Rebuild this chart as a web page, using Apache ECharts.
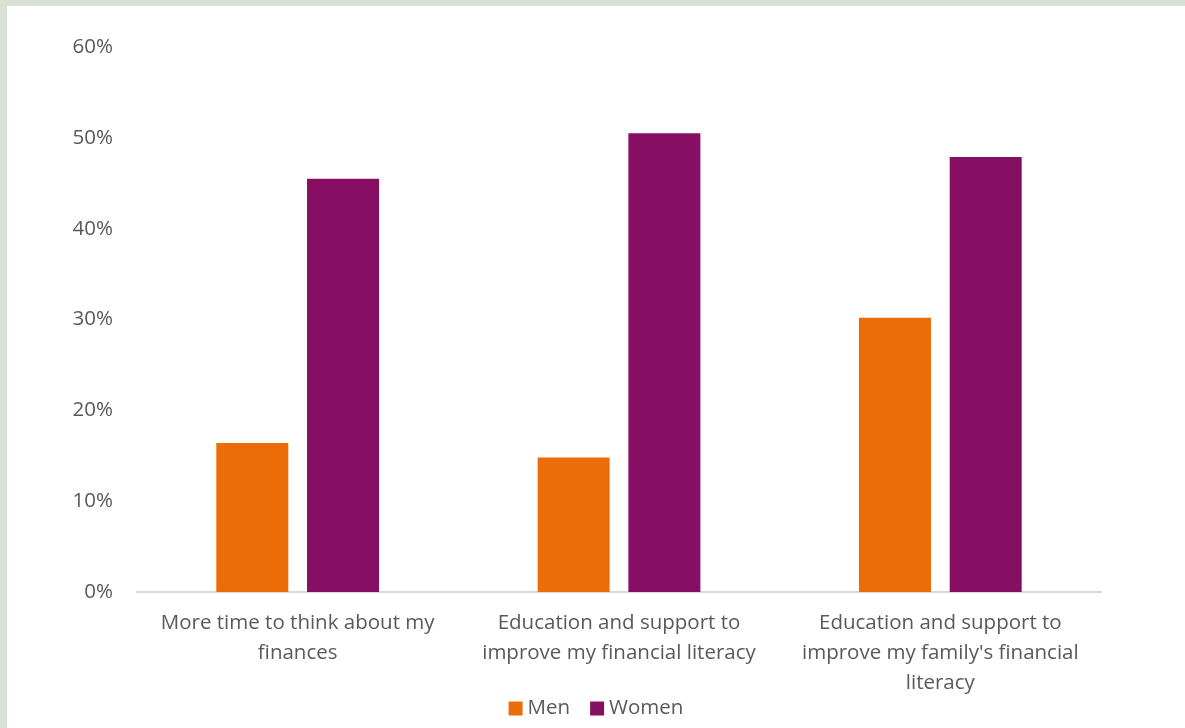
<!DOCTYPE html>
<html>
<head>
<meta charset="utf-8">
<script src="https://cdn.jsdelivr.net/npm/echarts@6/dist/echarts.min.js"></script>
<style>
  html, body { margin: 0; padding: 0; width: 1185px; height: 728px; background: #dae0d6; overflow: hidden; }
  #chart { position: absolute; left: 7px; top: 6px; width: 1178px; height: 722px; background: #ffffff; }
</style>
</head>
<body>
<div id="chart"></div>
<script>
// Survey answers, split by gender (share of respondents, %)
const categories = [
  'More time to think about my\nfinances',
  'Education and support to\nimprove my financial literacy',
  "Education and support to\nimprove my family's financial\nliteracy"
];
const menValues = [16.4, 14.8, 30.2];
const womenValues = [45.5, 50.5, 47.9];
const yTicks = { min: 0, max: 60, interval: 10 };

const textColor = '#595959';
const fontFamily = '"Open Sans", "Liberation Sans", sans-serif';

const chart = echarts.init(document.getElementById('chart'));
chart.setOption({
  animation: false,
  textStyle: { fontFamily: fontFamily, color: textColor },
  grid: { left: 130, right: 84, top: 41, bottom: 136 },
  legend: {
    data: ['Men', 'Women'],
    bottom: 4,
    left: 'center',
    icon: 'rect',
    itemWidth: 14,
    itemHeight: 14,
    itemGap: 20,
    textStyle: { fontSize: 20.5, color: textColor, fontFamily: fontFamily }
  },
  xAxis: {
    type: 'category',
    data: categories,
    axisLine: { show: true, lineStyle: { color: '#d9d9d9', width: 2 } },
    axisTick: { show: false },
    axisLabel: {
      interval: 0,
      margin: 16,
      fontSize: 20.5,
      lineHeight: 30,
      color: textColor,
      fontFamily: fontFamily
    }
  },
  yAxis: {
    type: 'value',
    min: yTicks.min,
    max: yTicks.max,
    interval: yTicks.interval,
    axisLine: { show: false },
    axisTick: { show: false },
    splitLine: { show: false },
    axisLabel: {
      formatter: '{value}%',
      margin: 24,
      fontSize: 20.5,
      color: textColor,
      fontFamily: fontFamily
    }
  },
  series: [
    {
      name: 'Men',
      type: 'bar',
      data: menValues,
      barWidth: 72,
      barGap: '26%',
      itemStyle: { color: '#ec6c08' }
    },
    {
      name: 'Women',
      type: 'bar',
      data: womenValues,
      barWidth: 72,
      barGap: '26%',
      itemStyle: { color: '#860f64' }
    }
  ]
});
</script>
</body>
</html>
